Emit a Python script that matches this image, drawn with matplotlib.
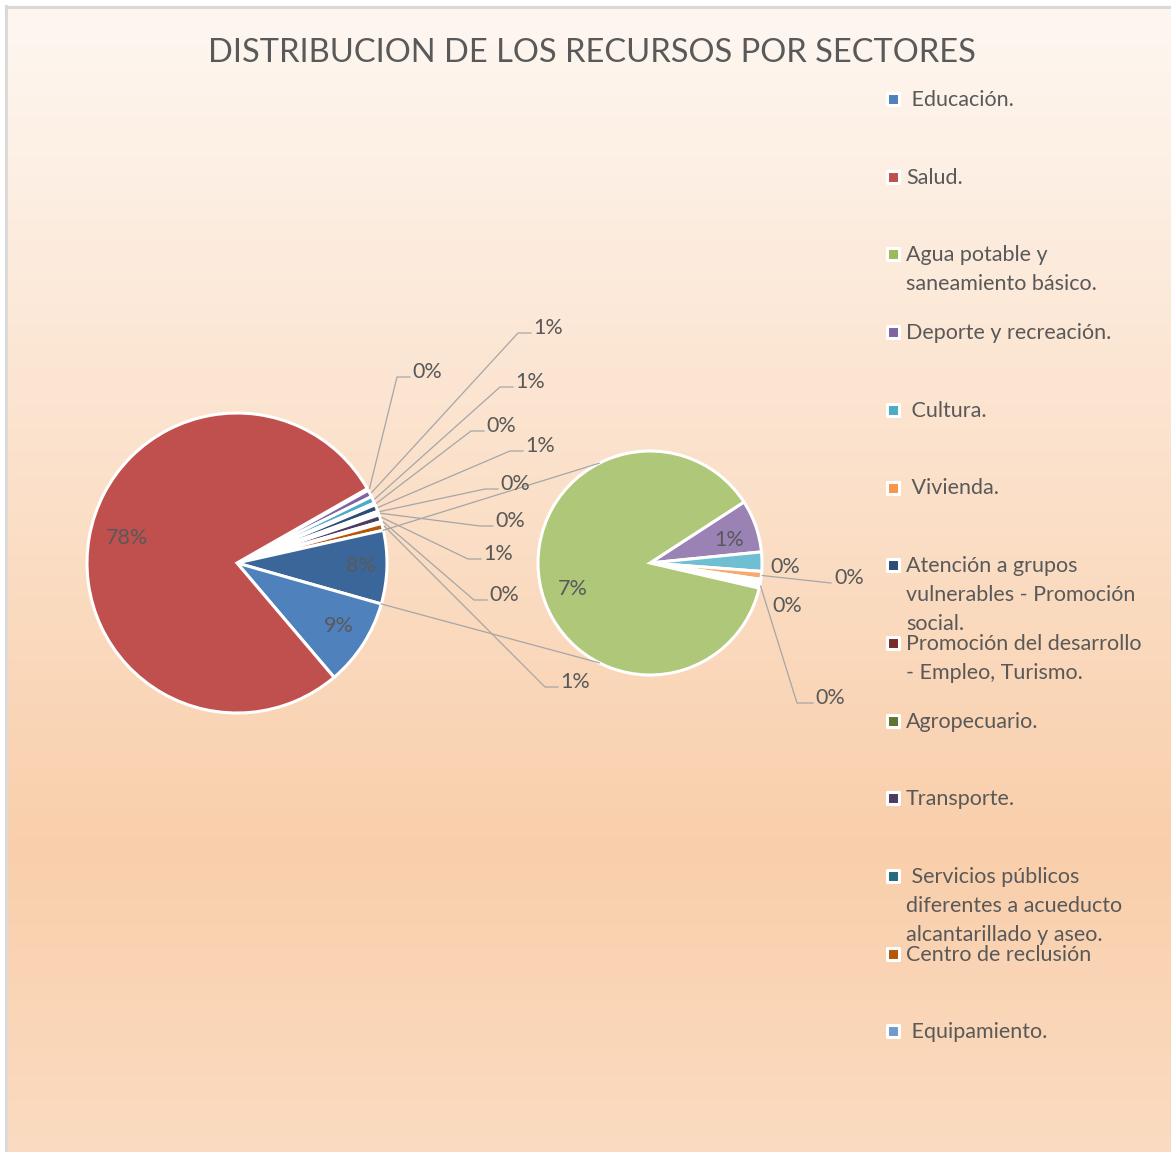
import numpy as np
import matplotlib.pyplot as plt

W, H = 1171, 1152  # tamaño en pixeles

titulo = "DISTRIBUCION DE LOS RECURSOS POR SECTORES"

sectores = [" Educación.", "Salud.", "Agua potable y\nsaneamiento básico.",
            "Deporte y recreación.", " Cultura.", " Vivienda.",
            "Atención a grupos\nvulnerables - Promoción\nsocial.",
            "Promoción del desarrollo\n- Empleo, Turismo.", "Agropecuario.",
            "Transporte.",
            " Servicios públicos\ndiferentes a acueducto\nalcantarillado y aseo.",
            "Centro de reclusión", " Equipamiento."]
colores_sector = ["#4F81BD", "#C0504D", "#9BBB59", "#8064A2", "#4BACC6", "#F79646",
                  "#2C4D75", "#772C2A", "#5F7530", "#4D3B62", "#276A7C", "#B65708",
                  "#729ACA"]

# pastel principal (sentido horario desde las porciones pequeñas)
pequenos_vals = [0.2, 0.75, 0.75, 0.2, 0.75, 0.2, 0.2, 0.75, 0.2, 0.75]
pequenos_cols = ["#772C2A", "#8064A2", "#4BACC6", "#5F7530", "#2C4D75",
                 "#276A7C", "#729ACA", "#4D3B62", "#5F7530", "#B65708"]
educacion_val = 9.4
salud_val = 78.0

# pastel secundario
secundario_vals = [0.6, 0.22, 0.09, 0.05, 0.05, 6.9]
secundario_cols = ["#9B82B5", "#6FBED2", "#F8A96D", "#F8A96D", "#F8A96D", "#AEC778"]

otros_val = sum(secundario_vals)
total = salud_val + educacion_val + sum(pequenos_vals) + otros_val

# posiciones de etiquetas (x izquierda, y centro) en pixeles de imagen
pos_pequenos = [(412, 372), (533, 328), (515, 382), (486, 426), (525, 446),
                (500, 484), (495, 521), (483, 554), (489, 595), (560, 682)]

gris = "#595959"
linea = "#A6A6A6"
fuente = "Lato"


def py(y):
    return H - y


def pct(v):
    return "%d%%" % int(round(v / total * 100))


fig = plt.figure(figsize=(W / 100, H / 100), dpi=100)
ax = fig.add_axes([0, 0, 1, 1])

# fondo degradado
filas = np.linspace(0, 1, 400)
arriba = np.array([254, 247, 241]) / 255
medio = np.array([249, 207, 171]) / 255
abajo = np.array([251, 219, 193]) / 255
corte = (850 - 8) / (H - 8)
grad = np.zeros((400, 1, 3))
for i, t in enumerate(filas):
    if t < corte:
        grad[i, 0] = arriba + (medio - arriba) * t / corte
    else:
        grad[i, 0] = medio + (abajo - medio) * (t - corte) / (1 - corte)
ax.imshow(grad, extent=[8, W, 0, py(8)], aspect="auto", zorder=0)
ax.plot([6, 6], [0, py(6)], color="#D9D9D9", lw=2.2, zorder=1)
ax.plot([6, W], [py(6.5), py(6.5)], color="#D9D9D9", lw=2.2, zorder=1)

# pastel principal
c1 = (237, py(563))
r1 = 150
vals1 = pequenos_vals + [otros_val, educacion_val, salud_val]
cols1 = pequenos_cols + ["#3A6699", "#4F81BD", "#C0504D"]
w1, _ = ax.pie(vals1, colors=cols1, center=c1, radius=r1, startangle=29.7,
               counterclock=False,
               wedgeprops=dict(edgecolor="white", linewidth=2.2))

# pastel secundario
c2 = (650, py(563))
r2 = 112
w2, _ = ax.pie(secundario_vals, colors=secundario_cols, center=c2, radius=r2,
               startangle=33, counterclock=False,
               wedgeprops=dict(edgecolor="white", linewidth=2.2))
for w in w2[3:5]:
    w.set_facecolor("white")


def borde(c, r, ang):
    a = np.radians(ang)
    return c[0] + r * np.cos(a), c[1] + r * np.sin(a)


# líneas de conexión
w_otros = w1[len(pequenos_vals)]
p_arr = borde(c1, r1, w_otros.theta2)
p_ab = borde(c1, r1, w_otros.theta1)
q_arr = borde(c2, r2, 117)
q_ab = borde(c2, r2, -117)
ax.plot([p_arr[0], q_arr[0]], [p_arr[1], q_arr[1]], color=linea, lw=0.9, zorder=3)
ax.plot([p_ab[0], q_ab[0]], [p_ab[1], q_ab[1]], color=linea, lw=0.9, zorder=3)

txt = dict(color=gris, fontsize=15.5, family=fuente)

# etiquetas de porciones pequeñas
for w, v, (lx, ly) in zip(w1, pequenos_vals, pos_pequenos):
    mid = (w.theta1 + w.theta2) / 2
    sx, sy = borde(c1, r1 + 2, mid)
    ax.plot([sx, lx - 15, lx - 2], [sy, py(ly + 5), py(ly + 5)],
            color=linea, lw=0.9, zorder=3)
    ax.text(lx, py(ly), pct(v), ha="left", va="center", **txt)

ax.text(127, py(538), pct(salud_val), ha="center", va="center", **txt)
ax.text(361, py(566), pct(otros_val), ha="center", va="center", **txt)
ax.text(339, py(626), pct(educacion_val), ha="center", va="center", **txt)

# etiquetas del pastel secundario
ax.text(573, py(589), pct(secundario_vals[5]), ha="center", va="center", **txt)
ax.text(729, py(540), pct(secundario_vals[0]), ha="center", va="center", **txt)
ax.text(785, py(567), pct(secundario_vals[1]), ha="center", va="center", **txt)
ax.text(787, py(606), pct(secundario_vals[3]), ha="center", va="center", **txt)
m = (w2[2].theta1 + w2[2].theta2) / 2
sx, sy = borde(c2, r2 + 1, m)
ax.plot([sx, 831], [sy, py(583)], color=linea, lw=0.9, zorder=3)
ax.text(834, py(578), pct(secundario_vals[2]), ha="left", va="center", **txt)
m = (w2[4].theta1 + w2[4].theta2) / 2
sx, sy = borde(c2, r2 + 1, m)
ax.plot([sx, 797, 813], [sy, py(703), py(703)], color=linea, lw=0.9, zorder=3)
ax.text(815, py(698), pct(secundario_vals[4]), ha="left", va="center", **txt)

# título
ax.text(592, py(53), titulo, ha="center", va="center", color=gris,
        fontsize=23.5, family=fuente)

# leyenda
for i, (s, col) in enumerate(zip(sectores, colores_sector)):
    y = 99 + i * 77.7
    ax.scatter([893], [py(y)], marker="s", s=70, color=col, edgecolor="white",
               linewidth=2.2, zorder=4)
    ax.text(906, py(y - 9), s, ha="left", va="top", linespacing=1.55, **txt)

ax.set_xlim(0, W)
ax.set_ylim(0, H)
ax.set_aspect("auto")
ax.axis("off")

fig.savefig("out.png", dpi=100, facecolor="white")
